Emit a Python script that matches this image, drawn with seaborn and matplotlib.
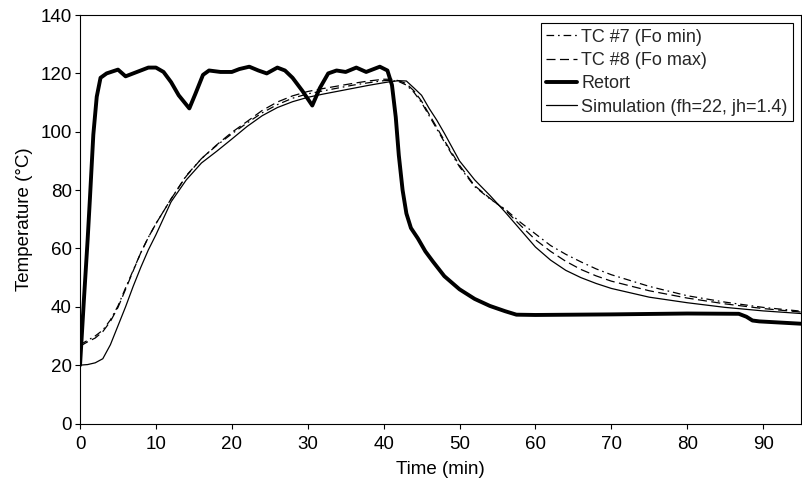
import matplotlib
matplotlib.use("Agg")
import matplotlib.pyplot as plt
import seaborn as sns
import numpy as np
import pandas as pd

# ---------------- data ----------------
time_tc = [0, 1, 2, 3, 4, 5, 6, 7, 8, 9, 10, 12, 14, 16, 18, 20, 22, 24, 26, 28,
           30, 32, 34, 36, 38, 40, 41, 42, 43, 44, 45, 46, 47, 48, 50, 52, 54, 56,
           58, 60, 62, 64, 66, 68, 70, 75, 80, 85, 90, 95]

tc7 = [27.0, 28.5, 30.0, 32.0, 35.5, 40.3, 46.5, 52.5, 58.5, 63.8, 68.5, 77.0, 85.0,
       90.8, 95.3, 99.3, 103.0, 106.5, 109.3, 111.5, 113.0, 114.0, 115.0, 116.0,
       116.8, 117.5, 117.6, 117.2, 116.0, 113.5, 110.0, 105.5, 101.0, 96.5, 88.0,
       81.2, 77.0, 73.5, 69.0, 65.0, 61.0, 58.0, 55.4, 53.0, 51.0, 47.0, 43.8,
       41.6, 39.8, 38.5]

tc8 = [26.5, 28.0, 29.3, 31.5, 35.0, 39.8, 46.0, 52.3, 58.5, 63.8, 68.5, 77.0, 84.8,
       90.8, 95.5, 99.8, 103.5, 107.3, 110.2, 112.3, 113.8, 114.8, 115.7, 116.6,
       117.4, 118.0, 118.0, 117.5, 116.5, 114.0, 110.5, 106.0, 101.5, 97.0, 88.5,
       81.5, 77.2, 73.2, 68.0, 63.0, 59.0, 55.6, 52.8, 50.6, 48.8, 45.5, 43.0,
       41.0, 39.4, 38.2]

simulation = [20.0, 20.2, 20.8, 22.2, 27.0, 33.5, 40.0, 47.0, 53.5, 59.5, 64.7, 76.0,
              83.5, 89.3, 93.3, 97.5, 101.8, 105.5, 108.3, 110.3, 111.8, 112.9,
              113.9, 114.9, 115.9, 116.8, 117.2, 117.5, 117.4, 115.0, 112.5, 108.0,
              104.0, 99.5, 90.0, 83.5, 78.2, 72.5, 66.5, 60.5, 56.0, 52.5, 50.0,
              48.0, 46.3, 43.3, 41.4, 39.8, 38.6, 37.7]

time_retort = [0, 0.5, 1.0, 1.3, 1.75, 2.2, 2.7, 3.5, 5.0, 6.0, 7.0, 8.0, 9.0, 10.0,
               11.0, 12.0, 13.0, 14.4, 15.2, 16.2, 17.0, 18.5, 20.0, 21.0, 22.3,
               23.5, 24.6, 26.0, 27.0, 28.0, 29.3, 30.6, 31.6, 32.7, 33.8, 35.0,
               36.4, 37.7, 39.5, 40.5, 41.1, 41.6, 42.0, 42.5, 43.0, 43.6, 44.5,
               45.5, 46.5, 48.0, 50.0, 52.0, 54.0, 56.0, 57.5, 60.0, 70.0, 80.0,
               86.8, 87.8, 88.6, 89.5, 95.0]

retort = [20.0, 42.0, 63.0, 77.0, 99.0, 112.0, 118.5, 120.0, 121.3, 119.0, 120.0,
          121.0, 122.0, 122.0, 120.5, 117.0, 112.5, 108.0, 113.0, 119.5, 121.0,
          120.5, 120.5, 121.5, 122.3, 121.0, 120.0, 122.0, 121.0, 118.5, 114.0,
          109.0, 115.0, 120.0, 121.0, 120.5, 122.0, 120.5, 122.3, 121.0, 116.0,
          105.0, 92.0, 80.0, 72.0, 67.0, 63.5, 59.0, 55.5, 50.5, 46.0, 42.7, 40.3,
          38.5, 37.3, 37.2, 37.4, 37.7, 37.6, 36.6, 35.3, 35.0, 34.2]

labels = ["TC #7 (Fo min)", "TC #8 (Fo max)", "Retort", "Simulation (fh=22, jh=1.4)"]
x_ticks = [0, 10, 20, 30, 40, 50, 60, 70, 80, 90]
y_ticks = [0, 20, 40, 60, 80, 100, 120, 140]

# ---------------- style ----------------
sns.set_theme(style="ticks")
plt.rcParams["font.family"] = ["Liberation Sans", "DejaVu Sans"]
plt.rcParams["lines.scale_dashes"] = False

fig = plt.figure(figsize=(8.02, 4.86), dpi=100)
ax = fig.add_axes([0.0998, 0.1286, 0.8990, 0.8404])

sns.lineplot(x=time_tc, y=tc7, ax=ax, color="black", linewidth=0.9,
             linestyle=(0, (5.5, 2.8, 1.2, 2.8)), label=labels[0],
             estimator=None, sort=False)
sns.lineplot(x=time_tc, y=tc8, ax=ax, color="black", linewidth=0.9,
             linestyle=(0, (6.5, 3.2)), label=labels[1],
             estimator=None, sort=False)
sns.lineplot(x=time_retort, y=retort, ax=ax, color="black", linewidth=2.8,
             label=labels[2], estimator=None, sort=False)
sns.lineplot(x=time_tc, y=simulation, ax=ax, color="black", linewidth=0.9,
             label=labels[3], estimator=None, sort=False)

ax.set_xlim(0, 95)
ax.set_ylim(0, 140)
ax.set_xticks(x_ticks)
ax.set_yticks(y_ticks)
ax.set_xlabel("Time (min)", fontsize=13.5, color="black", labelpad=6)
ax.set_ylabel("Temperature (°C)", fontsize=13.5, color="black", labelpad=5)
ax.tick_params(axis="both", direction="out", length=3.5, width=0.8,
               labelsize=13.5, colors="black", pad=2.5)
ax.tick_params(axis="x", pad=5.5)
for sp in ax.spines.values():
    sp.set_visible(True)
    sp.set_color("black")
    sp.set_linewidth(0.8)

leg = ax.legend(loc="upper right", frameon=True, fancybox=False, framealpha=1,
                edgecolor="black", fontsize=13, handlelength=1.67,
                handletextpad=0.25, labelspacing=0.35, borderaxespad=0.45,
                borderpad=0.3)
leg.get_frame().set_linewidth(0.8)

fig.savefig("out.png", dpi=100)
